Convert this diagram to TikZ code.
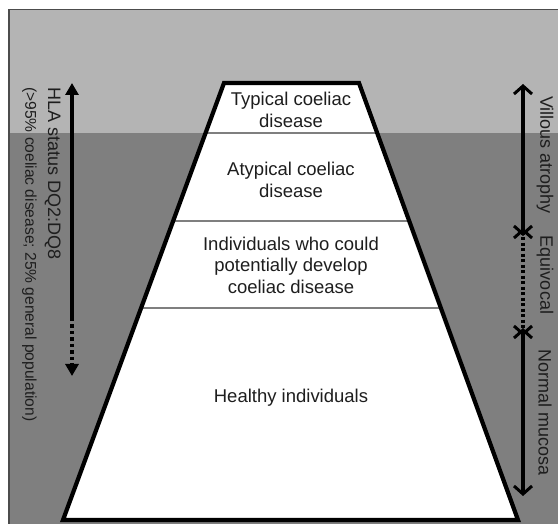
\documentclass[tikz,border=0pt]{standalone}
\usepackage{fontspec}
\setmainfont{Liberation Sans}
\usetikzlibrary{arrows.meta,calc}
\definecolor{lightbg}{HTML}{B4B4B4}
\definecolor{darkbg}{HTML}{7F7F7F}
\definecolor{txt}{HTML}{1E1E1E}
\tikzset{
  bandtext/.style={align=center,text=txt,font=\fontsize{18.5}{21.5}\selectfont,inner sep=0pt},
  sidetext/.style={text=txt,font=\fontsize{18}{20}\selectfont,inner sep=0pt,rotate=-90},
  sidesmall/.style={text=txt,font=\fontsize{15.6}{18}\selectfont,inner sep=0pt,rotate=-90},
  bandline/.style={draw=darkbg,line width=1.3pt},
  lefttip/.tip={Triangle[length=12pt,width=13pt]},
  righttip/.tip={Straight Barb[length=8pt,width=18pt,line width=3pt]},
  solidarrow/.style={line width=4pt,-lefttip},
  openarrow/.style={line width=3.2pt,righttip-righttip},
  dotline/.style={line width=4pt,dash pattern=on 3.5pt off 3pt},
}
\begin{document}
\begin{tikzpicture}[x=1pt,y=-1pt]
\useasboundingbox (0,0) rectangle (558,524);
% background
\fill[white] (0,0) rectangle (558,524);
\fill[lightbg] (9,9.5) rectangle (560,133);
\fill[darkbg] (9,133) rectangle (560,526);
\draw[black!70,line width=1.4pt] (9,526) -- (9,9.5) -- (560,9.5);
% trapezoid
\coordinate (tl) at (224,83);
\coordinate (tr) at (359,83);
\coordinate (br) at (518,520);
\coordinate (bl) at (63,520);
\fill[white] (tl) -- (tr) -- (br) -- (bl) -- cycle;
\begin{scope}
\clip (tl) -- (tr) -- (br) -- (bl) -- cycle;
\draw[bandline] (0,133) -- (558,133);
\draw[bandline] (0,221) -- (558,221);
\draw[bandline] (0,308) -- (558,308);
\end{scope}
\draw[black,line width=4.2pt,line join=miter] (tl) -- (tr) -- (br) -- (bl) -- cycle;
% band labels
\node[bandtext] (b1) at (291,110) {Typical coeliac\\disease};
\node[bandtext] (b2) at (291,180) {Atypical coeliac\\disease};
\node[bandtext] (b3) at (291,265) {Individuals who could\\potentially develop\\coeliac disease};
\node[bandtext] (b4) at (291,398) {Healthy individuals};
% left arrow
\coordinate (la) at (72,83);
\coordinate (lb) at (72,318);
\coordinate (lc) at (72,376);
\draw[solidarrow] (lb) -- (la);
\draw[dotline,-lefttip] (lb) -- (lc);
\node[sidetext,anchor=north west] (hla) at (61,87) {HLA status DQ2:DQ8};
\node[sidesmall,anchor=north west] (hla2) at (37,87) {(>95\% coeliac disease; 25\% general population)};
% right arrows
\coordinate (r1) at (523,84);
\coordinate (r2) at (523,236);
\coordinate (r3) at (523,228);
\coordinate (r4) at (523,336);
\coordinate (r5) at (523,328);
\coordinate (r6) at (523,496);
\draw[openarrow] (r1) -- (r2);
\draw[openarrow,dash pattern=on 3pt off 2.5pt] (r3) -- (r4);
\draw[openarrow] (r5) -- (r6);
\node[sidetext] (v) at (545,155) {Villous atrophy};
\node[sidetext] (e) at (545,275) {Equivocal};
\node[sidetext] (n) at (545,413) {Normal mucosa};
\end{tikzpicture}
\end{document}
